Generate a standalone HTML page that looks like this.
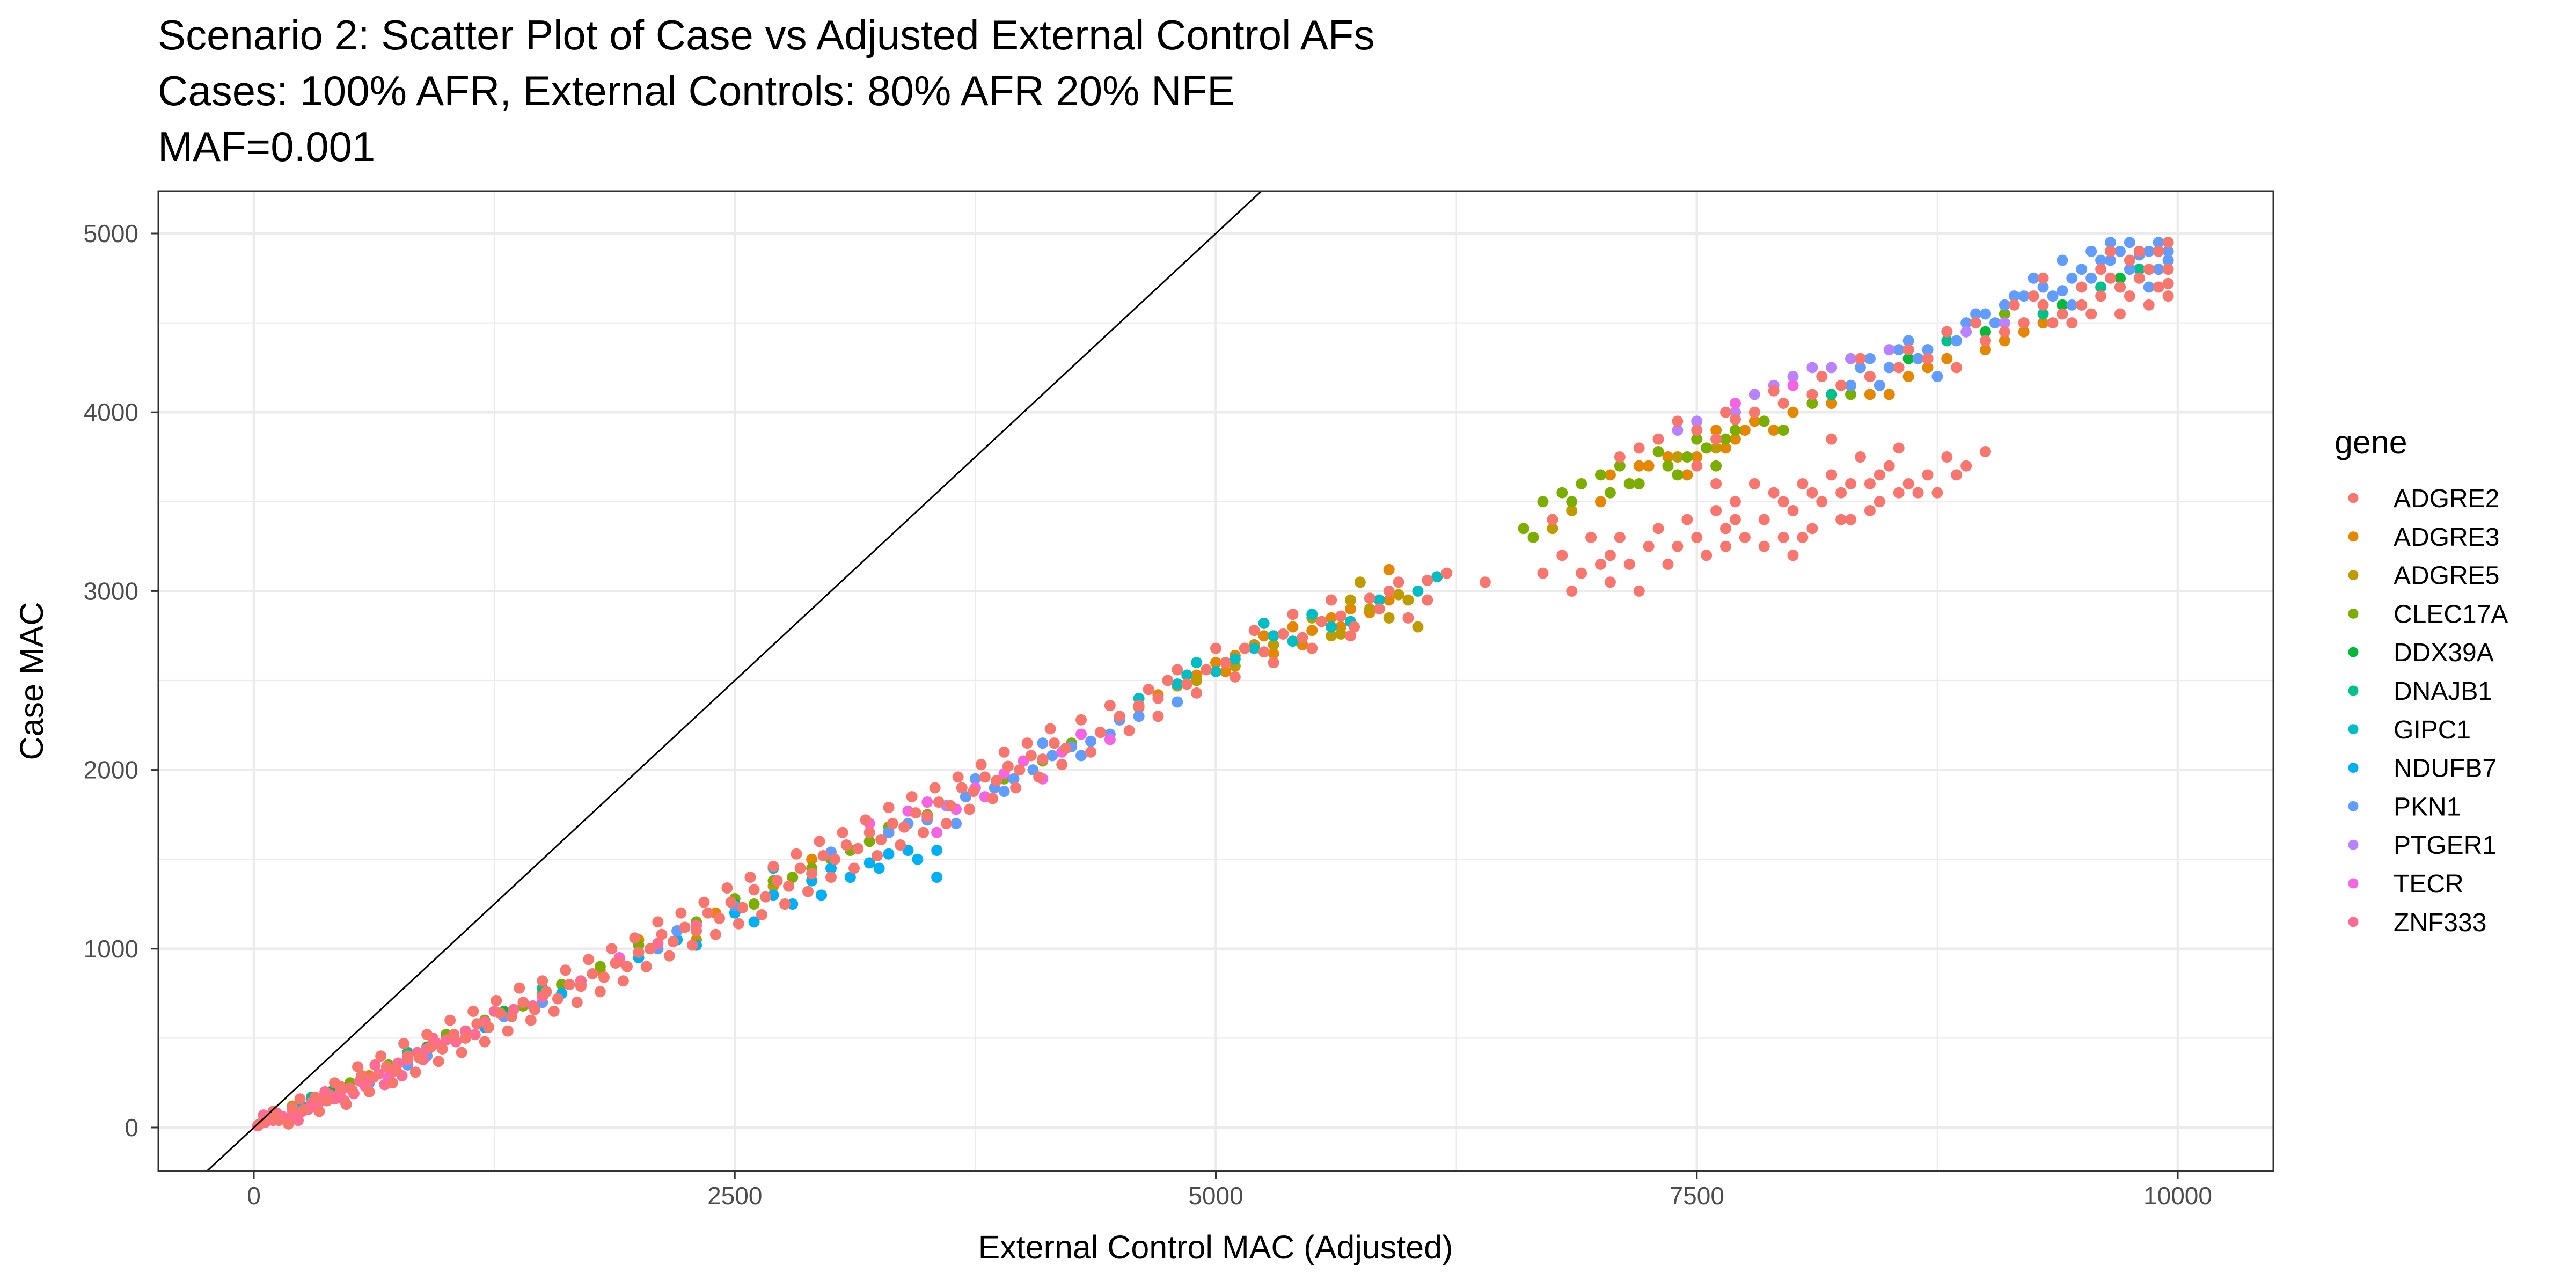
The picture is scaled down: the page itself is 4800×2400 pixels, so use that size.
<!DOCTYPE html>
<html><head><meta charset="utf-8"><style>
html,body{margin:0;padding:0;background:#fff;}
svg{display:block;font-family:"Liberation Sans",Arial,sans-serif;}
</style></head><body>
<svg id="chart" width="4800" height="2400" viewBox="0 0 4800 2400">
<rect width="4800" height="2400" fill="#fff"/>
<g font-size="78" fill="#000">
<text x="294" y="92">Scenario 2: Scatter Plot of Case vs Adjusted External Control AFs</text>
<text x="294" y="196">Cases: 100% AFR, External Controls: 80% AFR 20% NFE</text>
<text x="294" y="300">MAF=0.001</text>
</g>
<g id="grid"></g>
<g id="points"></g>
<g id="refline"></g>
<rect x="295" y="356" width="3941" height="1826" fill="none" stroke="#333" stroke-width="3"/>
<g id="axes"></g>
<text x="2265" y="2345" font-size="61" text-anchor="middle">External Control MAC (Adjusted)</text>
<text transform="translate(80,1269) rotate(-90)" font-size="61" text-anchor="middle">Case MAC</text>
<g id="legend">
<text x="4350" y="845" font-size="61">gene</text>
</g>
</svg>
<script>
const genes=["ADGRE2","ADGRE3","ADGRE5","CLEC17A","DDX39A","DNAJB1","GIPC1","NDUFB7","PKN1","PTGER1","TECR","ZNF333"];
const colors=["#F8766D","#E58700","#C09B00","#7CAE00","#00BA38","#00C08B","#00BFC4","#00B0F6","#619CFF","#B983FF","#F564E3","#FF6C91"];
const xTicks=[0,2500,5000,7500,10000];
const yTicks=[0,1000,2000,3000,4000,5000];
const xMinor=[1250,3750,6250,8750];
const yMinor=[500,1500,2500,3500,4500];
const ADGRE2=[30,20,80,50,130,40,200,110,260,100,320,170,380,150,450,230,510,210,560,290,620,280,690,340,740,320,800,400,860,390,920,450,980,440,1040,520,1100,500,1160,580,1220,560,1280,640,1340,620,1400,700,1460,660,1520,760,1580,720,1640,800,1700,790,1760,860,1820,840,1880,920,1940,900,2000,980,2060,1000,2120,1080,2180,1040,2240,1120,2300,1100,2360,1200,2420,1170,2480,1260,2540,1230,2600,1330,2660,1290,2720,1380,2780,1350,2840,1450,2900,1420,2960,1520,3020,1500,3080,1580,3140,1560,3200,1650,3260,1610,3320,1700,3380,1680,3440,1760,3500,1740,3560,1820,3620,1800,3680,1900,3740,1880,3800,1960,3860,1940,3920,2020,3980,2000,4040,2080,4100,2060,4160,2150,4220,2120,4400,2210,4500,2300,4600,2360,4700,2400,4750,2500,4850,2480,4950,2560,5050,2600,5150,2680,5250,2660,5350,2760,5450,2740,5550,2830,5650,2860,5720,2800,5800,2960,5850,2900,5950,3050,6100,2950,6200,3100,
6750,3400,7100,3750,7300,3850,7500,3900,7600,3850,7700,3960,7800,4000,7950,4050,8100,4100,8250,4150,8400,4200,8550,4250,8700,4300,8850,4250,9000,4400,9100,4450,9200,4500,9300,4600,9400,4550,9500,4700,9600,4650,9700,4700,9800,4750,9900,4700,9950,4800,9850,4600,9750,4850,9650,4900,9950,4950,9450,4500,9300,4750,
6400,3050,6700,3100,6800,3200,6900,3100,6950,3300,7050,3200,7150,3150,7250,3250,7300,3350,7400,3250,7450,3400,7500,3300,7550,3200,7600,3450,7650,3350,7700,3500,7750,3300,7800,3600,7850,3400,7900,3550,7950,3300,8000,3450,8050,3600,8100,3350,8150,3500,8200,3650,8250,3550,8300,3400,8350,3750,8400,3600,8450,3500,8500,3700,8600,3600,8650,3550,8700,3650,8800,3750,8900,3700,9000,3780,8550,3800,8200,3850,7500,3700,7050,3050,7200,3000,8000,3200,7600,3600,
100,90,180,20,240,160,340,90,420,250,480,130,540,340,600,200,660,400,720,250,780,470,840,310,900,520,960,370,1020,600,1080,420,1140,650,1200,480,1260,710,1320,540,1380,780,1440,600,1500,820,1560,650,1620,880,1680,700,1740,940,1800,760,1860,1000,1920,820,1980,1060,2040,900,2100,1150,2160,960,2220,1200,2280,1020,2340,1260,2400,1080,2460,1340,2520,1140,2580,1400,2640,1190,2700,1460,2760,1250,2820,1530,2880,1320,2940,1600,3000,1400,3060,1650,3120,1450,3180,1720,3240,1520,3300,1790,3360,1580,3420,1850,3480,1650,3540,1900,3600,1700,3660,1960,3720,1780,3780,2030,3840,1840,3900,2100,3960,1900,4020,2150,4080,1960,4140,2230,4200,2030,4300,2280,4350,2100,4450,2360,4550,2220,4650,2450,4700,2300,4800,2560,4900,2430,5000,2680,5100,2520,5200,2780,5300,2600,5400,2870,5500,2680,5600,2950,5700,2750,5900,3000,6000,2850,6100,3060,
7200,3800,7400,3950,7650,4000,7900,4120,8150,4200,8350,4300,8600,4350,8800,4450,8950,4500,9150,4600,9250,4650,9350,4500,9550,4550,9650,4750,9750,4650,9850,4800,9950,4650,9900,4900,9800,4900,9600,4800,9700,4550,9500,4600,9950,4720,
6850,3000,7000,3150,7100,3300,7350,3150,7650,3250,7850,3250,8050,3300,8250,3400,8400,3450,8550,3550,8750,3550,8100,3550,7950,3500,7700,3400,8300,3600,8450,3650,8850,3650];
const ADGRE3=[1000,520,2000,1050,2400,1200,2900,1500,4500,2280,4700,2420,4800,2470,4900,2530,5000,2600,5100,2640,5200,2700,5300,2650,5400,2800,5500,2780,5600,2850,5700,2900,5800,2880,5900,2950,5900,3120,7000,3500,7150,3600,7250,3700,7350,3750,7450,3650,7550,3800,7600,3900,7700,3850,7800,3950,7900,3900,8000,4000,8200,4050,8400,4100,8600,4200,8800,4300,9000,4350,9200,4450,9500,4600,9900,4800,600,290,1500,750,
7050,3650,7200,3700,7500,3750,7650,3800,7750,3900,8300,4150,8500,4100,8700,4250,9100,4400,9300,4500,9700,4700,4600,2350,5050,2550,5250,2750,5450,2700,5650,2800,1800,880,3300,1650];
const ADGRE5=[200,120,500,250,800,380,1200,560,1700,820,2300,1050,2700,1350,4900,2500,5100,2580,5300,2700,5500,2850,5600,2750,5700,2950,5800,2900,5900,2850,5950,2980,6000,2950,6050,2800,5650,2760,5750,3050,6750,3350,6850,3450,7400,3750,7600,3800];
const CLEC17A=[300,150,700,350,1000,520,1400,680,1800,900,2000,1020,2300,1150,2500,1280,2600,1250,2800,1400,3000,1500,3200,1600,3300,1680,3500,1750,3700,1850,3900,1950,4100,2050,4250,2150,6600,3350,6650,3300,6700,3500,6800,3550,6900,3600,7000,3650,7100,3700,7200,3600,7300,3780,7400,3650,7500,3850,7600,3700,7700,3900,7850,3950,7950,3900,8100,4050,8300,4100,8700,4350,9100,4550,
6750,3400,6850,3500,7050,3550,7150,3600,7350,3700,7450,3750,7550,3800,7650,3850,2700,1380,2900,1450,3100,1550,3600,1800,1600,800,1200,600,500,250];
const DDX39A=[400,200,900,450,1300,650,2500,1250,8600,4300,9000,4450,9400,4600,9700,4750];
const DNAJB1=[300,170,800,420,1500,780,2200,1100,8200,4100,8800,4400,9300,4550,9600,4700,9800,4800,9900,4900];
const GIPC1=[100,60,250,120,600,270,4600,2400,4800,2480,4900,2600,5000,2550,5100,2620,5200,2680,5300,2750,5400,2720,5500,2870,5600,2800,5700,2830,5850,2950,6050,3000,6150,3080,5250,2820,4850,2530];
const NDUFB7=[150,60,900,430,1200,560,1600,750,2000,950,2200,1050,2300,1020,2500,1200,2600,1150,2700,1300,2800,1250,2900,1380,3000,1450,3100,1400,3200,1480,3300,1530,3400,1550,3450,1500,3550,1400,3550,1550,2700,1450,2950,1300,3250,1450];
const PKN1=[200,80,600,250,900,400,1300,620,1700,800,2100,1000,2500,1240,3000,1540,3300,1650,3500,1720,3650,1700,3700,1850,3850,1900,3950,1950,4050,2000,4150,2080,4250,2130,4350,2160,4450,2200,4600,2300,4800,2380,8300,4150,8400,4300,8500,4250,8600,4400,8700,4350,8800,4450,8900,4500,9000,4550,9100,4600,9200,4650,9300,4700,9400,4680,9500,4800,9600,4850,9700,4900,9800,4880,9900,4950,9950,4850,9550,4750,9750,4800,9850,4700,9200,4500,9400,4850,9650,4950,9000,4400,8750,4200,
8350,4250,8450,4150,8550,4350,8650,4300,8850,4400,8950,4550,9050,4500,9150,4650,9250,4750,9350,4650,9450,4750,9550,4900,9650,4850,9750,4950,9850,4900,9900,4800,9800,4750,9450,4600,9700,4700,9950,4900,3750,1950,3900,1880,4100,2150,4300,2080,4500,2280,3400,1700,2200,1100,1500,700,800,350,400,180];
const PTGER1=[400,160,3600,1800,7400,3900,7500,3950,7700,4000,7800,4100,7900,4150,8000,4200,8100,4250,8200,4250,8300,4300,8400,4200,8500,4350,8700,4300,8900,4450,9100,4500];
const TECR=[250,90,700,280,1900,950,3200,1700,3400,1770,3500,1820,3650,1780,3750,1900,3800,1850,3900,1980,4000,2050,4100,1950,4200,2100,4300,2200,4450,2170,3550,1650,7700,4050,8000,4150];
const ZNF333=[20,10,60,30,100,40,150,60,200,80,250,90,300,140,350,150,400,180,450,200,500,220,550,260,600,270,650,300,700,330,750,360,800,380,850,420,900,440,950,470,1000,490,1100,540,1200,590,120,80,280,100,420,160,580,230,720,310,880,380,1050,480,1350,660,1500,730,1700,820,1900,930,2100,1030,2300,1130,180,40,330,110,520,190,680,240,
50,70,230,40,370,200,470,150,630,350,770,290,930,500,1150,520,1250,650,1450,680];
const series=[ADGRE2,ADGRE3,ADGRE5,CLEC17A,DDX39A,DNAJB1,GIPC1,NDUFB7,PKN1,PTGER1,TECR,ZNF333];

const NS="http://www.w3.org/2000/svg";
const PL=295,PR=4236,PT=356,PB=2182;
function sx(v){return 473+v*0.3585;}
function sy(v){return 2101-v*0.3332;}
function mk(tag,attrs,parent){const e=document.createElementNS(NS,tag);for(const k in attrs)e.setAttribute(k,attrs[k]);parent.appendChild(e);return e;}
const grid=document.getElementById('grid');
mk('rect',{x:PL,y:PT,width:PR-PL,height:PB-PT,fill:'#fff'},grid);
xMinor.forEach(v=>{const l=mk('line',{x1:sx(v),x2:sx(v),y1:PT,y2:PB,stroke:'#EBEBEB','stroke-width':2.2},grid);

});
yMinor.forEach(v=>{const l=mk('line',{x1:PL,x2:PR,y1:sy(v),y2:sy(v),stroke:'#EBEBEB','stroke-width':2.2},grid);

});
xTicks.forEach(v=>{const l=mk('line',{x1:sx(v),x2:sx(v),y1:PT,y2:PB,stroke:'#EBEBEB','stroke-width':4.5},grid);

});
yTicks.forEach(v=>{const l=mk('line',{x1:PL,x2:PR,y1:sy(v),y2:sy(v),stroke:'#EBEBEB','stroke-width':4.5},grid);

});

const pts=document.getElementById('points');
const order=[1,2,3,4,5,6,7,8,9,10,11,0];
order.forEach(gi=>{const arr=series[gi];
  for(let i=0;i<arr.length;i+=2){
    const c=mk('circle',{cx:sx(arr[i]),cy:sy(arr[i+1]),r:10.5,fill:colors[gi]},pts);
    
    
  }});

const rl=document.getElementById('refline');
const vmin=(PB-2101)/-0.3332, vmax=(2101-PT)/0.3332;
const ln=mk('line',{x1:sx(vmin),y1:sy(vmin),x2:sx(vmax),y2:sy(vmax),stroke:'#000','stroke-width':3},rl);



const ax=document.getElementById('axes');
xTicks.forEach(v=>{
  const t=mk('line',{x1:sx(v),x2:sx(v),y1:PB,y2:PB+14,stroke:'#333','stroke-width':3},ax);
  
  
  const tx=mk('text',{x:sx(v),y:PB+62,'font-size':46,fill:'#4D4D4D','text-anchor':'middle'},ax);
  tx.textContent=v;
  
  
});
yTicks.forEach(v=>{
  const t=mk('line',{x1:PL-14,x2:PL,y1:sy(v),y2:sy(v),stroke:'#333','stroke-width':3},ax);
  
  
  const tx=mk('text',{x:PL-37,y:sy(v)+16,'font-size':46,fill:'#4D4D4D','text-anchor':'end'},ax);
  tx.textContent=v;
  
  
});

const lg=document.getElementById('legend');
genes.forEach((g,i)=>{
  const y=928+i*71.8;
  const c=mk('circle',{cx:4385,cy:y,r:9.5,fill:colors[i]},lg);
  
  
  const t=mk('text',{x:4460,y:y+17,'font-size':48,fill:'#000'},lg);
  t.textContent=g;
  
  
});
</script>
</body></html>
